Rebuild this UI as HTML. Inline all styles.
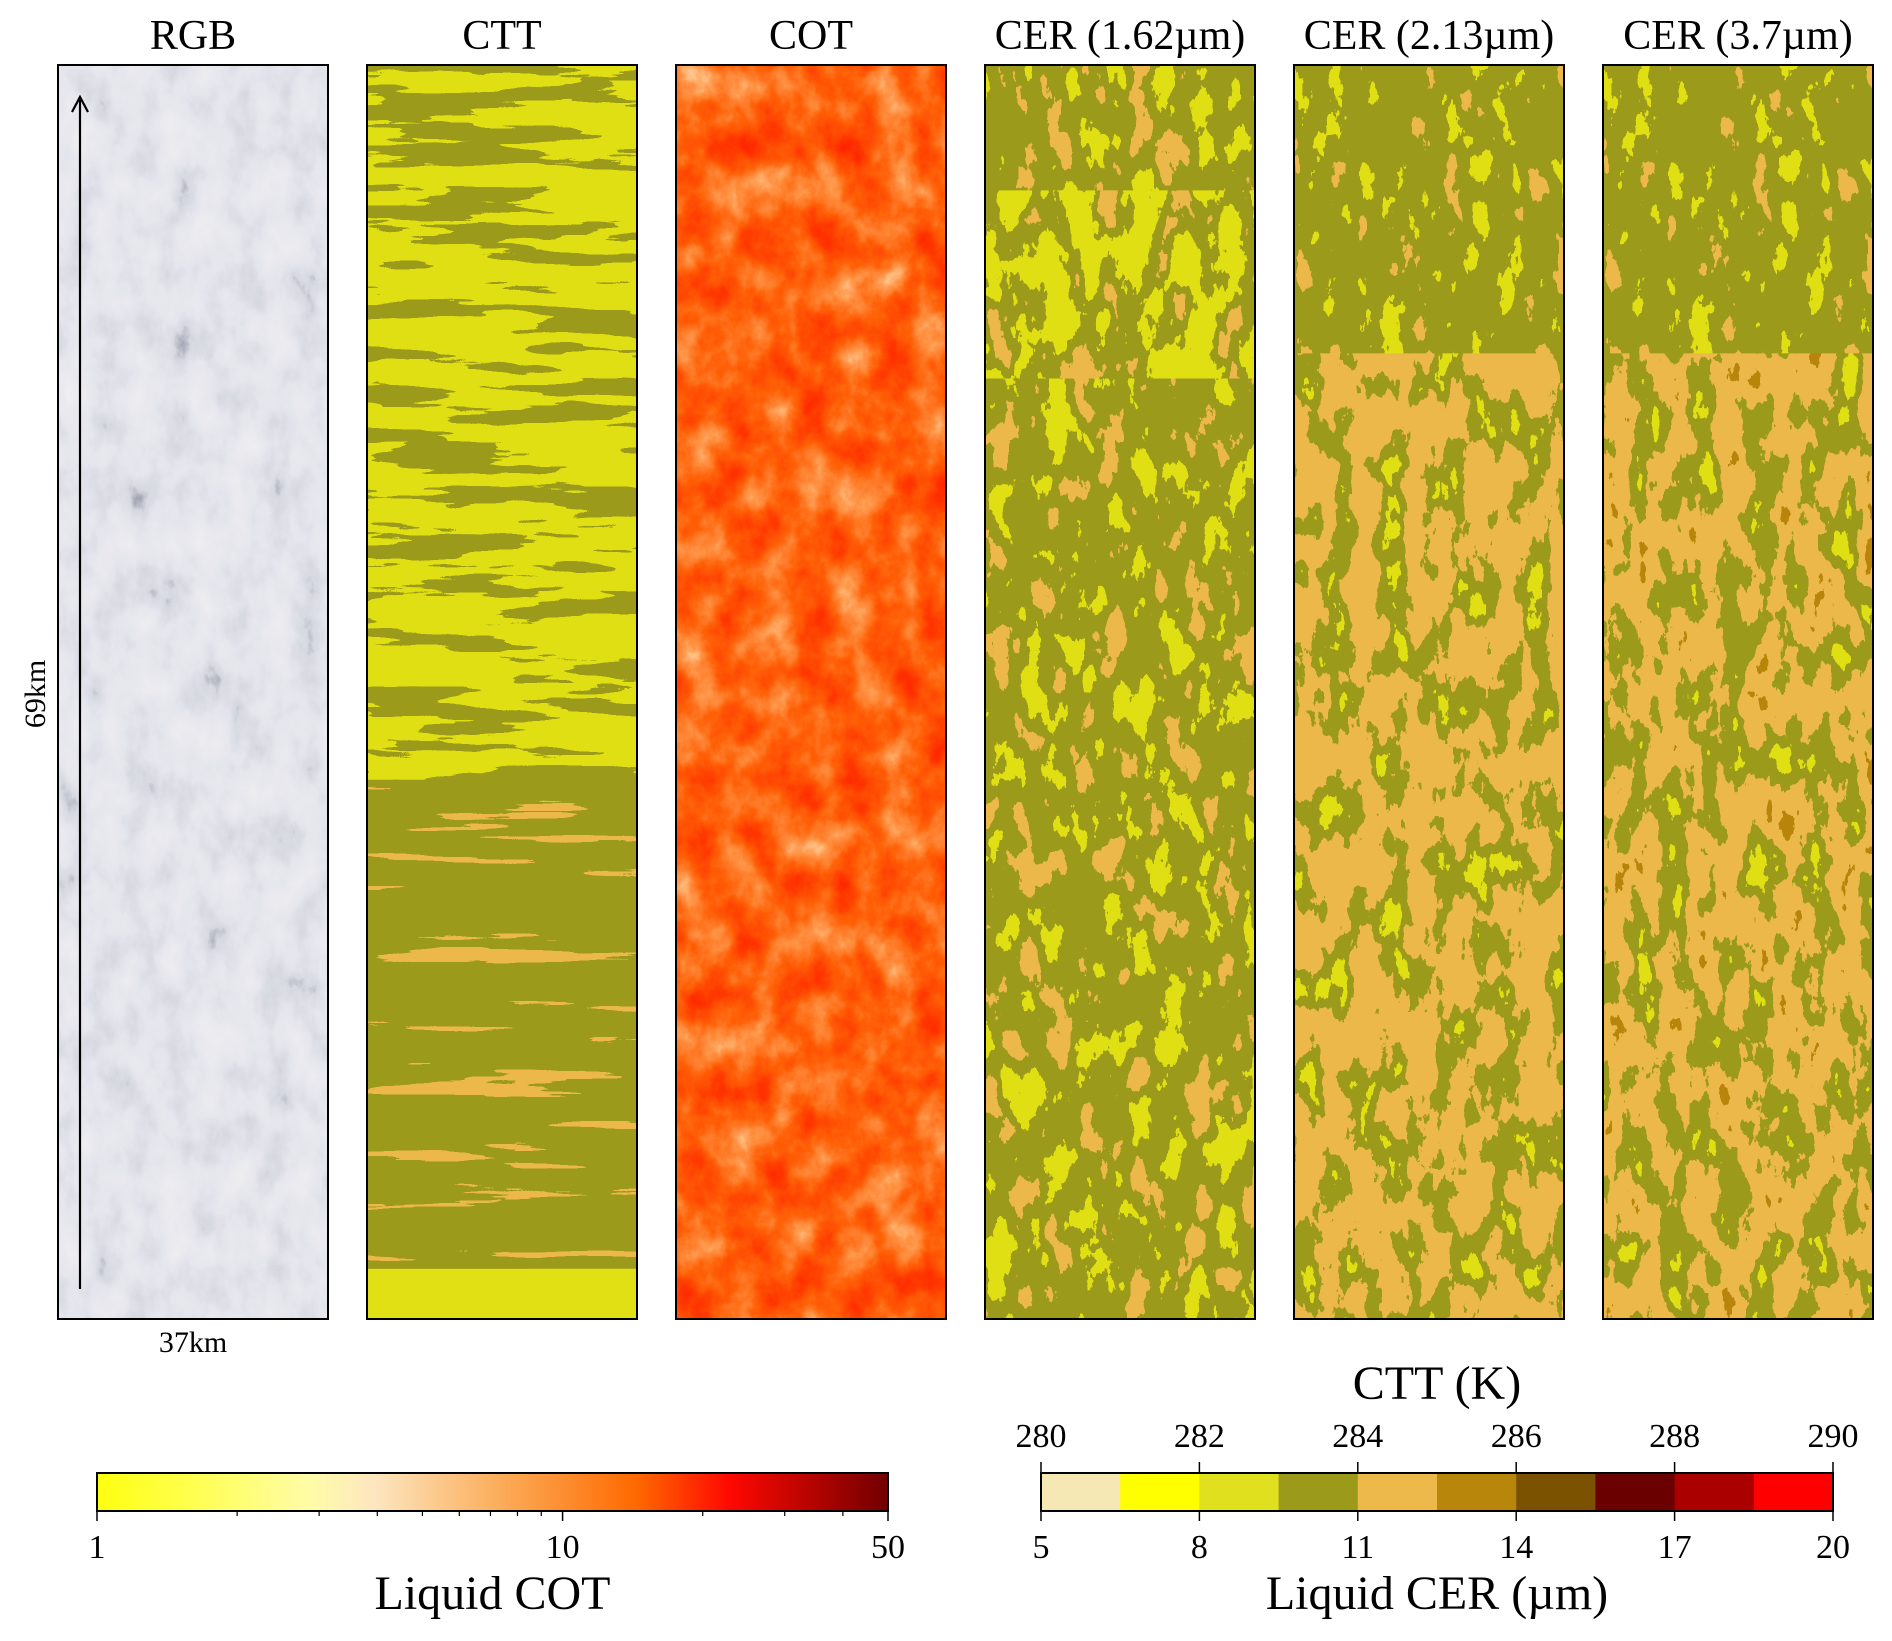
<!DOCTYPE html>
<html><head><meta charset="utf-8"><style>
html,body{margin:0;padding:0;background:#fff;}
svg{display:block;font-family:"Liberation Serif",serif;}
</style></head><body>
<svg id="root" width="1892" height="1641" viewBox="0 0 1892 1641" xmlns="http://www.w3.org/2000/svg">
<defs id="defs">
<linearGradient id="cotGrad" x1="0" x2="1" y1="0" y2="0">
<stop offset="0" stop-color="#ffff10"/><stop offset="0.12" stop-color="#ffff50"/>
<stop offset="0.27" stop-color="#fffca8"/><stop offset="0.35" stop-color="#fde6c0"/>
<stop offset="0.5" stop-color="#fbb060"/><stop offset="0.68" stop-color="#ff6a00"/>
<stop offset="0.8" stop-color="#ff0800"/><stop offset="1" stop-color="#700000"/>
</linearGradient>
</defs>
<g id="panels"></g>
<g id="annot">
<line x1="80" y1="1289" x2="80" y2="100" stroke="#000" stroke-width="2.2"/>
<path d="M72 112 L80 97 L88 112" fill="none" stroke="#000" stroke-width="2.2"/>
<text x="0" y="0" transform="translate(45,694) rotate(-90)" text-anchor="middle" font-size="30">69km</text>
<text x="193" y="1352" text-anchor="middle" font-size="30">37km</text>
</g>
<g id="cbars"></g>
</svg>
<script>
const panelTitles = ["RGB","CTT","COT","CER (1.62\u00b5m)","CER (2.13\u00b5m)","CER (3.7\u00b5m)"];
const cotTicks = [1,10,50];
const cotMinor = [2,3,4,5,6,7,8,9,20,30,40];
const cerTicks = [5,8,11,14,17,20];
const cttTicks = [280,282,284,286,288,290];
const cerBounds = [5,6.5,8,9.5,11,12.5,14,15.5,17,18.5,20];
const cerColors = ["#f6e8b4","#ffff00","#e0e01e","#9c9a1a","#ecb94a","#b8860b","#7a5200","#6b0000","#aa0000","#ff0000"];

const NS="http://www.w3.org/2000/svg";
const defs=document.getElementById('defs');
const panels=document.getElementById('panels');
const cb=document.getElementById('cbars');
function mk(tag,attrs,parent){const e=document.createElementNS(NS,tag);for(const k in attrs)e.setAttribute(k,attrs[k]);if(parent)parent.appendChild(e);return e;}
function hex(c){return [1,3,5].map(i=>(parseInt(c.substr(i,2),16)/255).toFixed(3));}
const PW=270,PH=1254,PY=65,PX0=58,DX=309;
function discFilter(id,freq,seed,oct,stops){
  const f=mk('filter',{id:id,x:0,y:0,width:PW,height:PH,filterUnits:'userSpaceOnUse','color-interpolation-filters':'sRGB'},defs);
  mk('feTurbulence',{type:'fractalNoise',baseFrequency:freq,numOctaves:oct,seed:seed},f);
  mk('feColorMatrix',{type:'matrix',values:'1 0 0 0 0 1 0 0 0 0 1 0 0 0 0 0 0 0 0 1'},f);
  const ct=mk('feComponentTransfer',{},f);
  const N=50;const ch=[[],[],[]];
  for(let i=0;i<N;i++){const v=(i+0.5)/N;let c=stops[stops.length-1][1];for(const s of stops){if(v<s[0]){c=s[1];break;}}const h=hex(c);for(let k=0;k<3;k++)ch[k].push(h[k]);}
  ['feFuncR','feFuncG','feFuncB'].forEach((t,k)=>mk(t,{type:'discrete',tableValues:ch[k].join(' ')},ct));
}
function linFilter(id,freq,seed,oct,r,g,b){
  const f=mk('filter',{id:id,x:0,y:0,width:PW,height:PH,filterUnits:'userSpaceOnUse','color-interpolation-filters':'sRGB'},defs);
  mk('feTurbulence',{type:'fractalNoise',baseFrequency:freq,numOctaves:oct,seed:seed},f);
  mk('feColorMatrix',{type:'matrix',values:'1 0 0 0 0 1 0 0 0 0 1 0 0 0 0 0 0 0 0 1'},f);
  const ct=mk('feComponentTransfer',{},f);
  mk('feFuncR',{type:'table',tableValues:r},ct);mk('feFuncG',{type:'table',tableValues:g},ct);mk('feFuncB',{type:'table',tableValues:b},ct);
}
linFilter('fRGB','0.03 0.02',3,5,'0.55 0.84 0.90 0.92 0.95','0.56 0.85 0.90 0.92 0.95','0.62 0.88 0.93 0.94 0.96');
discFilter('fCTTtop','0.006 0.05',7,4,[[0.55,'#e0e014'],[1,'#9c9a1a']]);
discFilter('fCTTbot','0.004 0.06',11,4,[[0.3,'#ecb94a'],[1,'#9c9a1a']]);
linFilter('fCOT','0.025 0.02',5,5,'1 1 1 1 1','0.1 0.22 0.38 0.6 0.92','0 0 0.03 0.3 0.75');
discFilter('fCER1','0.035 0.018',21,5,[[0.36,'#ecb94a'],[0.62,'#9c9a1a'],[1,'#e0e014']]);
discFilter('fCER1top','0.035 0.018',22,5,[[0.32,'#ecb94a'],[0.52,'#9c9a1a'],[1,'#e0e014']]);
discFilter('fCER2','0.035 0.018',33,5,[[0.52,'#ecb94a'],[0.72,'#9c9a1a'],[1,'#e0e014']]);
discFilter('fCER3','0.035 0.018',44,5,[[0.24,'#b8860b'],[0.52,'#ecb94a'],[0.74,'#9c9a1a'],[1,'#e0e014']]);
discFilter('fCERtop','0.035 0.018',55,5,[[0.33,'#ecb94a'],[0.64,'#9c9a1a'],[1,'#e0e014']]);

function band(g,y0,h,fid){
  const s=mk('svg',{x:0,y:y0,width:PW,height:h,viewBox:`0 ${y0} ${PW} ${h}`},g);
  mk('rect',{x:0,y:0,width:PW,height:PH,filter:`url(#${fid})`},s);
}
const fills=['fRGB','fCTTtop','fCOT','fCER1','fCER2','fCER3'];
panelTitles.forEach((t,i)=>{
  const x=PX0+i*DX;
  const g=mk('svg',{x:x,y:PY,width:PW,height:PH,viewBox:`0 0 ${PW} ${PH}`},panels);
  
  
  mk('rect',{x:0,y:0,width:PW,height:PH,fill:'#fff',filter:`url(#${fills[i]})`},g);
  if(i===1){
    band(g,PH*0.57,PH*0.39,'fCTTbot');
    mk('rect',{x:0,y:PH*0.96,width:PW,height:PH*0.04,fill:'#e0e014'},g);
  }
  if(i===3) band(g,PH*0.1,PH*0.15,'fCER1top');
  if(i>=4) band(g,0,PH*0.23,'fCERtop');
  const fr=mk('rect',{x:x,y:PY,width:PW,height:PH,fill:'none',stroke:'#000','stroke-width':2},panels);
  
  
  const tt=mk('text',{x:x+PW/2,y:49,'text-anchor':'middle','font-size':42},panels);
  tt.textContent=t;
  
  
});

const L0=97,L1=888,BY=1473,BH=38;
const lx=v=>L0+(L1-L0)*Math.log10(v/cotTicks[0])/Math.log10(cotTicks[cotTicks.length-1]/cotTicks[0]);
const cbl=mk('rect',{x:L0,y:BY,width:L1-L0,height:BH,fill:'url(#cotGrad)',stroke:'#000','stroke-width':2},cb);


cotMinor.forEach(v=>{const l=mk('line',{x1:lx(v),x2:lx(v),y1:BY+BH,y2:BY+BH+5,stroke:'#000','stroke-width':1.2},cb);});
cotTicks.forEach(v=>{
  const l=mk('line',{x1:lx(v),x2:lx(v),y1:BY+BH,y2:BY+BH+10,stroke:'#000','stroke-width':1.5},cb);
  
  
  const t=mk('text',{x:lx(v),y:1558,'text-anchor':'middle','font-size':34},cb);t.textContent=v;
  
  
});
const lt=mk('text',{x:(L0+L1)/2,y:1609,'text-anchor':'middle','font-size':48},cb);lt.textContent='Liquid COT';



const R0=1041,R1=1833;
const rx=v=>R0+(R1-R0)*(v-cerBounds[0])/(cerBounds[cerBounds.length-1]-cerBounds[0]);
cerColors.forEach((c,i)=>{
  const r=mk('rect',{x:rx(cerBounds[i]),y:BY,width:rx(cerBounds[i+1])-rx(cerBounds[i])+0.5,height:BH,fill:c},cb);
  
  
});
const fr2=mk('rect',{x:R0,y:BY,width:R1-R0,height:BH,fill:'none',stroke:'#000','stroke-width':2},cb);


const tx=v=>R0+(R1-R0)*(v-cttTicks[0])/(cttTicks[cttTicks.length-1]-cttTicks[0]);
cerTicks.forEach(v=>{
  const l=mk('line',{x1:rx(v),x2:rx(v),y1:BY+BH,y2:BY+BH+10,stroke:'#000','stroke-width':1.5},cb);
  
  
  const t=mk('text',{x:rx(v),y:1558,'text-anchor':'middle','font-size':34},cb);t.textContent=v;
  
  
});
cttTicks.forEach(v=>{
  const l=mk('line',{x1:tx(v),x2:tx(v),y1:BY,y2:BY-11,stroke:'#000','stroke-width':1.5},cb);
  
  
  const t=mk('text',{x:tx(v),y:1447,'text-anchor':'middle','font-size':34},cb);t.textContent=v;
  
  
});
const rt=mk('text',{x:(R0+R1)/2,y:1609,'text-anchor':'middle','font-size':48},cb);rt.textContent='Liquid CER (\u00b5m)';


const ct2=mk('text',{x:(R0+R1)/2,y:1399,'text-anchor':'middle','font-size':48},cb);ct2.textContent='CTT (K)';


</script>
</body></html>
